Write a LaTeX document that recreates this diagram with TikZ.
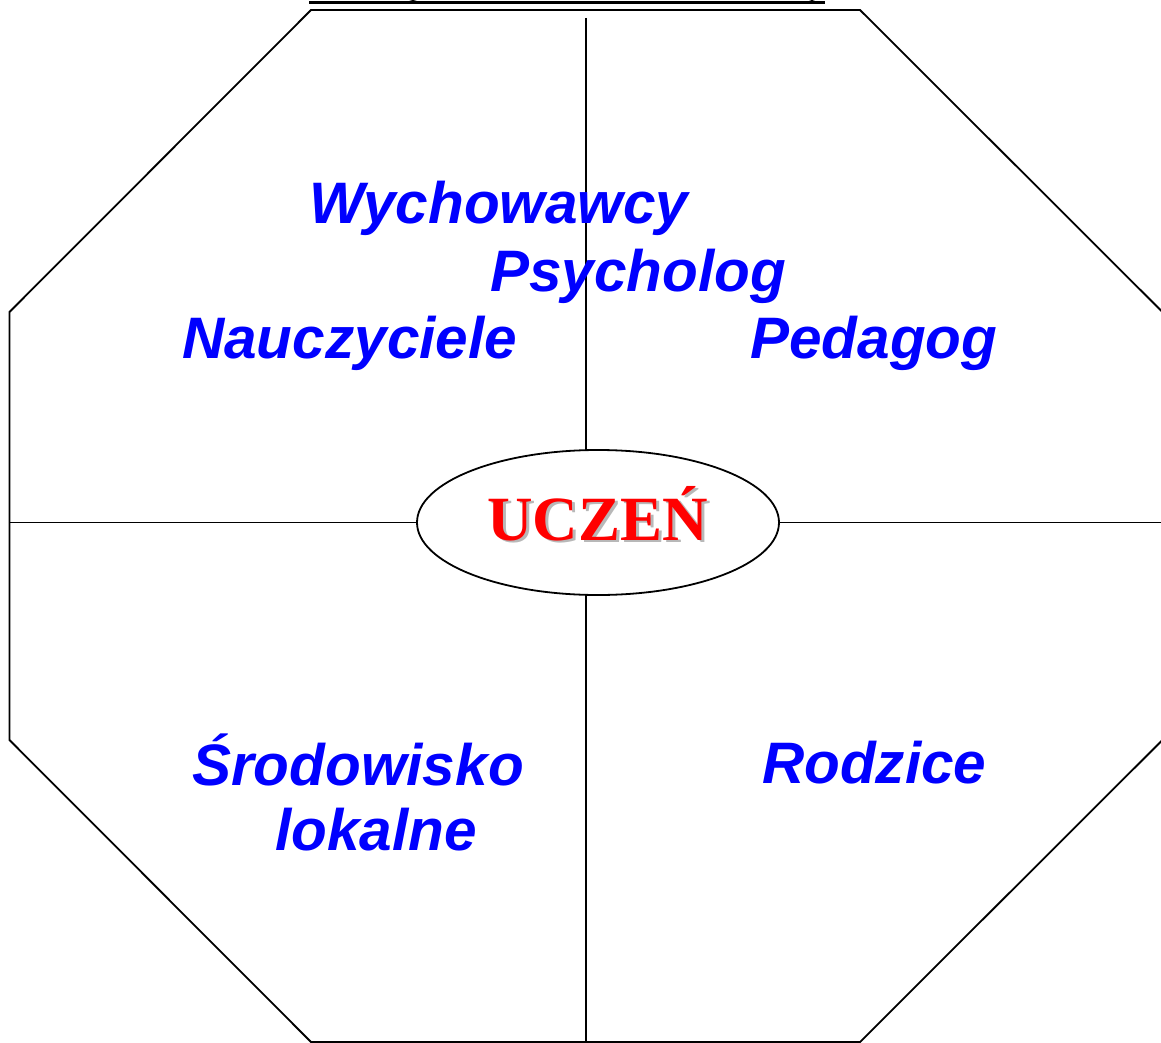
\documentclass[tikz,border=0pt]{standalone}
\usepackage{fontspec}
\setmainfont{Liberation Sans}
\newfontfamily\serifb{Liberation Serif}
\usetikzlibrary{shapes.geometric}
\begin{document}
\begin{tikzpicture}[x=1pt,y=-1pt,
  lbl/.style={anchor=base west, inner sep=0, text=blue,
    font=\fontsize{58.5}{70}\selectfont\bfseries\itshape},
  frame/.style={line width=1.8, black},
  centre/.style={ellipse, draw, line width=1.8, minimum width=362, minimum height=145, inner sep=0}]
\useasboundingbox (0,0) rectangle (1161,1043);
% title remnant at the top
\fill[black] (309,0.8) rectangle (825,4.2);
\fill[black] (408,3) arc[start angle=180, end angle=360, x radius=5, y radius=3] -- cycle;
\fill[black] (808,3) arc[start angle=180, end angle=360, x radius=4, y radius=3] -- cycle;
% octagon
\coordinate (a) at (311,10);
\coordinate (b) at (860,10);
\coordinate (c) at (1163.5,313);
\coordinate (d) at (1163.5,739);
\coordinate (e) at (860,1042);
\coordinate (f) at (311,1042);
\coordinate (g) at (9.5,740);
\coordinate (h) at (9.5,312);
\draw[frame] (a) -- (b) -- (c) -- (d) -- (e) -- (f) -- (g) -- (h) -- cycle;
% centre
\node[centre] (u) at (598,522.5) {};
\node[anchor=base, inner sep=0, text=red, font=\fontsize{63}{70}\selectfont\serifb\bfseries] (ut) at (597.5,540)
  {\rlap{\kern3pt\raisebox{-2.5pt}{\color{black!28}UCZEŃ}}UCZEŃ};
% cross lines
\coordinate (lw) at (9.5,522.5);
\coordinate (le) at (1170,522.5);
\coordinate (ln) at (586,18);
\coordinate (ls) at (586,1042);
\coordinate (un) at (586,451);
\coordinate (us) at (586,594);
\draw[frame] (lw) -- (u.west);
\draw[frame] (u.east) -- (le);
\draw[frame] (ln) -- (un);
\draw[frame] (us) -- (ls);
% labels
\node[lbl] (w) at (309,223) {Wychowawcy};
\node[lbl] (p) at (490,291) {Psycholog};
\node[lbl] (n) at (182,358) {Nauczyciele};
\node[lbl] (pe) at (750,358) {Pedagog};
\node[lbl] (s) at (192,785) {Środowisko};
\node[lbl] (l) at (275,850) {lokalne};
\node[lbl] (r) at (762,783) {Rodzice};
\end{tikzpicture}
\end{document}
